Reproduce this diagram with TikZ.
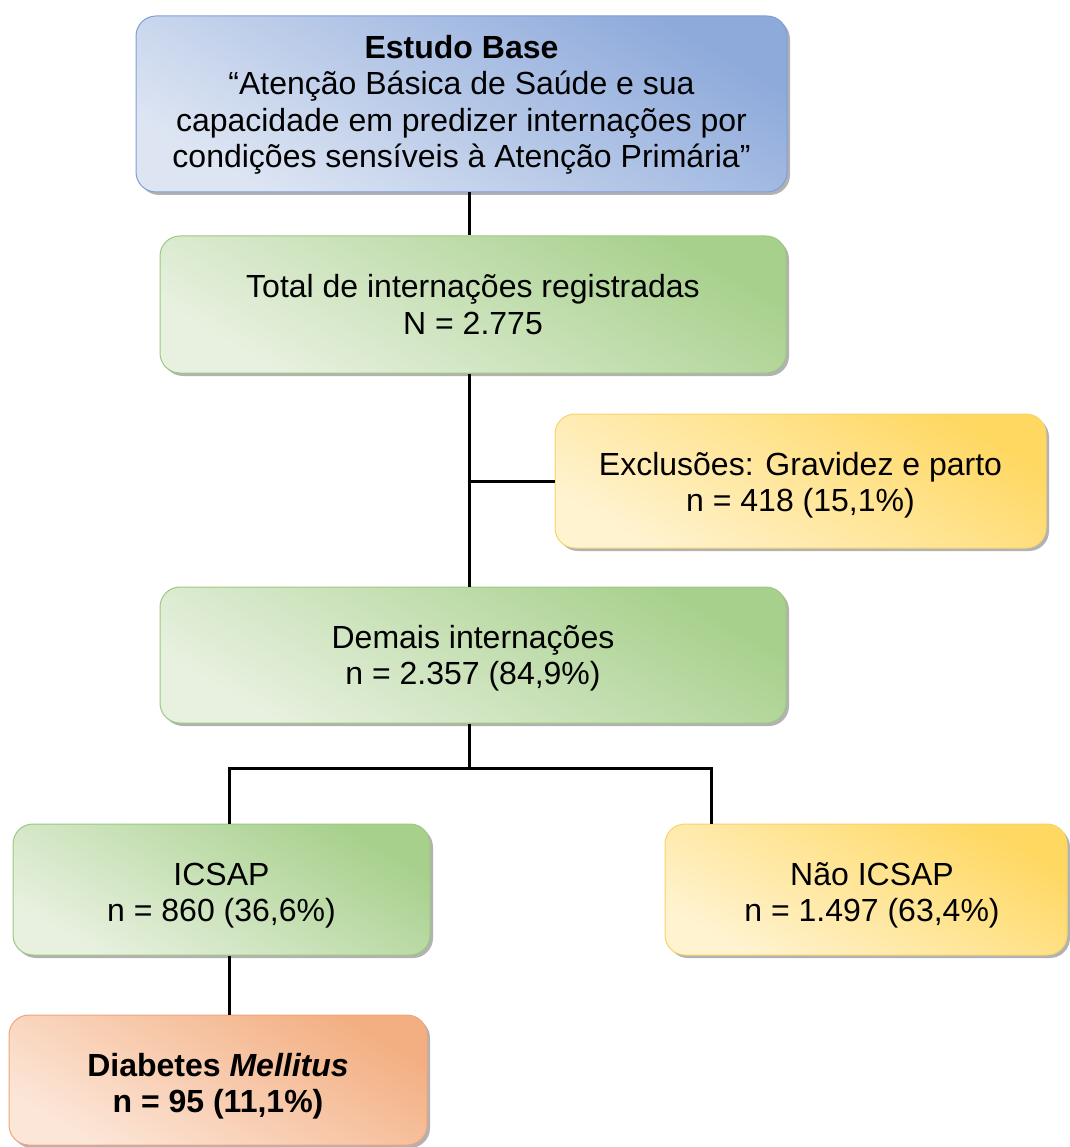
\documentclass[tikz,border=0pt]{standalone}
\usepackage{fontspec}
\setmainfont{Liberation Sans}
\usetikzlibrary{shadows}
\definecolor{bluelt}{HTML}{DDE5F3}
\definecolor{bluedk}{HTML}{8EAADB}
\definecolor{blueln}{HTML}{7F9ED6}
\definecolor{greenlt}{HTML}{E8F1E0}
\definecolor{greendk}{HTML}{A7D08C}
\definecolor{greenln}{HTML}{9CC97F}
\definecolor{yellowlt}{HTML}{FFF3D0}
\definecolor{yellowdk}{HTML}{FFD862}
\definecolor{yellowln}{HTML}{F7D36A}
\definecolor{orangelt}{HTML}{FCE6D8}
\definecolor{orangedk}{HTML}{F3AF82}
\definecolor{orangeln}{HTML}{EFA579}
\tikzset{
  box/.style={rectangle, rounded corners=20pt, inner sep=0pt,
    line width=1pt,
    drop shadow={shadow xshift=3pt, shadow yshift=-3pt, fill=black!55, opacity=.55}},
  txt/.style={align=center, inner sep=0pt, font=\fontsize{32}{36.5}\selectfont},
  bluebox/.style={box, draw=blueln, left color=bluelt, middle color=bluelt!55!bluedk, right color=bluedk, shading angle=150},
  greenbox/.style={box, draw=greenln, left color=greenlt, middle color=greenlt!60!greendk, right color=greendk, shading angle=150},
  yellowbox/.style={box, draw=yellowln, left color=yellowlt, middle color=yellowlt!60!yellowdk, right color=yellowdk, shading angle=150},
  orangebox/.style={box, draw=orangeln, left color=orangelt, middle color=orangelt!60!orangedk, right color=orangedk, shading angle=150},
  conn/.style={line width=3pt, black}
}
\begin{document}
\begin{tikzpicture}[x=1pt,y=-1pt]
\useasboundingbox (0,0) rectangle (1069,1147);
\node[bluebox, minimum width=651pt, minimum height=176pt,
  label={[txt, yshift=-1pt]center:{\textbf{Estudo Base}\\“Atenção Básica de Saúde e sua\\capacidade em predizer internações por\\condições sensíveis à Atenção Primária”}}] (b1) at (461.5,104) {};
\node[greenbox, minimum width=626pt, minimum height=137pt,
  label={[txt, yshift=0pt]center:{Total de internações registradas\\N = 2.775}}] (b2) at (473,304.5) {};
\node[yellowbox, minimum width=491pt, minimum height=134pt,
  label={[txt, yshift=-4pt]center:{Exclusões: Gravidez e parto\\n = 418 (15,1\%)}}] (b3) at (800.5,481) {};
\node[greenbox, minimum width=626pt, minimum height=136pt,
  label={[txt, yshift=-3pt]center:{Demais internações\\n = 2.357 (84,9\%)}}] (b4) at (473,655) {};
\node[greenbox, minimum width=417pt, minimum height=131pt,
  label={[txt, yshift=-6pt]center:{ICSAP\\n = 860 (36,6\%)}}] (b5) at (221.5,889.5) {};
\node[yellowbox, minimum width=402pt, minimum height=131pt,
  label={[txt, xshift=6pt, yshift=-6pt]center:{Não ICSAP\\n = 1.497 (63,4\%)}}] (b6) at (866,889.5) {};
\node[orangebox, minimum width=418pt, minimum height=130pt,
  label={[txt, yshift=-6pt]center:{\textbf{Diabetes \textit{Mellitus}}\\\textbf{n = 95 (11,1\%)}}}] (b7) at (218,1080) {};
\coordinate (tx) at (469,0);
\coordinate (split) at (469,768);
\coordinate (lx) at (229,768);
\coordinate (rx) at (711,768);
\draw[conn] (b1.south -| tx) -- (b2.north -| tx);
\draw[conn] (b2.south -| tx) -- (b4.north -| tx);
\draw[conn] (b3.west) -- (b3.west -| tx);
\draw[conn] (b4.south -| tx) -- (split);
\draw[conn] (b5.north -| lx) -- (lx) -- (rx) -- (b6.north -| rx);
\draw[conn] (b5.south -| lx) -- (b7.north -| lx);
\end{tikzpicture}
\end{document}
